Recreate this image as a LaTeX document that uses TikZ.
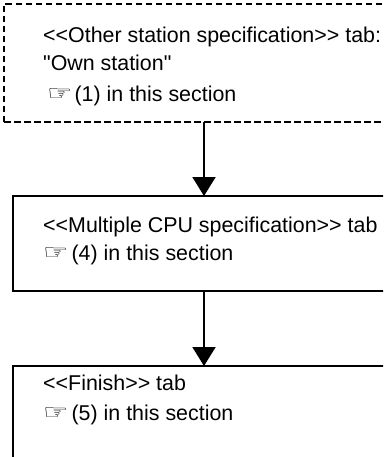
\documentclass[tikz,border=0pt]{standalone}
\usepackage{fontspec}
\setmainfont{Liberation Sans}[Ligatures=TeXOff]
\newfontfamily\handfont{DejaVu Sans}
\usetikzlibrary{arrows.meta,positioning}
\tikzset{
  tabbox/.style={draw, line width=2pt, outer sep=0pt, inner sep=0pt, minimum width=382pt},
  tabdash/.style={tabbox, dash pattern=on 6.5pt off 3.5pt, minimum width=400pt},
  tabtext/.style={anchor=base west, inner sep=0pt, font=\fontsize{21.4}{25}\selectfont},
  tabarrow/.style={-{Triangle[width=23pt,length=19pt]}, line width=2pt}
}
\newcommand{\refmark}{{\handfont\fontsize{21}{21}\selectfont\raisebox{1pt}{\scalebox{1.35}[1]{☞}}}}

\begin{document}
\begin{tikzpicture}[x=1pt, y=-1pt, node distance=74pt]
\useasboundingbox (0,0) rectangle (383,457);
\clip (0,0) rectangle (383,457);
\node[tabdash, minimum height=118pt, anchor=north west] (own) at (4,4) {};
\node[tabbox, minimum height=95pt, below=74pt of own] (cpu) {};
\node[tabbox, minimum height=120pt, below=75pt of cpu] (fin) {};
\draw[tabarrow] (own) -- (cpu);
\draw[tabarrow] (cpu) -- (fin);
% texts in the boxes
\node[tabtext] (ownA) at ([shift={(39,38.5)}]own.north west) {<<Other station specification>> tab:};
\node[tabtext] (ownB) at ([shift={(39,66.5)}]own.north west) {"Own station"};
\node[tabtext] (ownC) at ([shift={(43,97.5)}]own.north west) {\refmark\hspace{2pt}(1) in this section};
\node[tabtext] (cpuA) at ([shift={(30,36.5)}]cpu.north west) {<<Multiple CPU specification>> tab};
\node[tabtext] (cpuB) at ([shift={(30,64.5)}]cpu.north west) {\refmark\hspace{3pt}(4) in this section};
\node[tabtext] (finA) at ([shift={(30,24.5)}]fin.north west) {<<Finish>> tab};
\node[tabtext] (finB) at ([shift={(30,54.5)}]fin.north west) {\refmark\hspace{3pt}(5) in this section};
\end{tikzpicture}
\end{document}
